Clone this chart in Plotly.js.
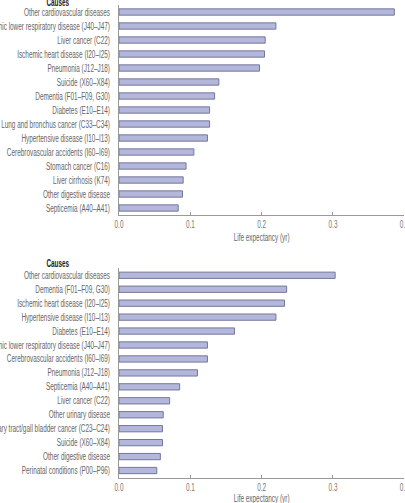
<!DOCTYPE html>
<html><head><meta charset="utf-8">
<script src="https://cdn.plot.ly/plotly-3.0.1.min.js"></script>
<style>html,body{margin:0;padding:0;background:#fff;}#chart{width:405px;height:503px;}</style>
</head><body><div id="chart"></div>
<script>
const topCauses = ["Other cardiovascular diseases","Chronic lower respiratory disease (J40–J47)","Liver cancer (C22)","Ischemic heart disease (I20–I25)","Pneumonia (J12–J18)","Suicide (X60–X84)","Dementia (F01–F09, G30)","Diabetes (E10–E14)","Lung and bronchus cancer (C33–C34)","Hypertensive disease (I10–I13)","Cerebrovascular accidents (I60–I69)","Stomach cancer (C16)","Liver cirrhosis (K74)","Other digestive disease","Septicemia (A40–A41)"];
const topValues = [0.386,0.220,0.205,0.204,0.197,0.140,0.134,0.127,0.127,0.124,0.105,0.094,0.090,0.089,0.083];
const bottomCauses = ["Other cardiovascular diseases","Dementia (F01–F09, G30)","Ischemic heart disease (I20–I25)","Hypertensive disease (I10–I13)","Diabetes (E10–E14)","Chronic lower respiratory disease (J40–J47)","Cerebrovascular accidents (I60–I69)","Pneumonia (J12–J18)","Septicemia (A40–A41)","Liver cancer (C22)","Other urinary disease","Biliary tract/gall bladder cancer (C23–C24)","Suicide (X60–X84)","Other digestive disease","Perinatal conditions (P00–P96)"];
const bottomValues = [0.303,0.235,0.232,0.220,0.162,0.124,0.124,0.110,0.085,0.071,0.062,0.061,0.061,0.058,0.053];
const xTicks = [0,0.1,0.2,0.3,0.4];
const axisTitle = "Life expectancy (yr)";
const groupTitle = "Causes";

const FONT = "'Liberation Sans','Arial',sans-serif";
const CONDENSE = 0.64; // emulate a condensed typeface
const barStyle = {color:'#b4b7dc', line:{color:'#75779a', width:1}};
const traces = [
  {type:'bar', orientation:'h', x:topValues, y:topCauses, xaxis:'x', yaxis:'y', marker:barStyle, width:0.45, hoverinfo:'none'},
  {type:'bar', orientation:'h', x:bottomValues, y:bottomCauses, xaxis:'x2', yaxis:'y2', marker:barStyle, width:0.45, hoverinfo:'none'}
];
const xCommon = {range:[0,0.4], tickvals:xTicks, tickformat:'.1f', ticks:'inside', ticklen:3, tickcolor:'#999',
  ticklabeloverflow:'allow',
  showline:true, linecolor:'#999', linewidth:1, showgrid:false, zeroline:false, tickfont:{family:FONT,size:10,color:'#777'},
  domain:[119/405, 404.3/405], fixedrange:true};
const yCommon = {type:'category', autorange:'reversed', showline:true, linecolor:'#999', linewidth:1, showgrid:false,
  ticks:'', ticklabelstandoff:6, ticklabeloverflow:'allow', tickfont:{family:FONT,size:10,color:'#666'}, fixedrange:true};
const layout = {
  width:405, height:503, margin:{l:0,r:0,t:0,b:0}, paper_bgcolor:'#fff', plot_bgcolor:'#fff', showlegend:false,
  xaxis:Object.assign({}, xCommon, {anchor:'y'}),
  yaxis:Object.assign({}, yCommon, {anchor:'x', domain:[1-215/503, 1-5/503]}),
  xaxis2:Object.assign({}, xCommon, {anchor:'y2'}),
  yaxis2:Object.assign({}, yCommon, {anchor:'x2', domain:[1-477.5/503, 1-268.3/503]}),
  annotations:[
    {text:'<b>'+groupTitle+'</b>', xref:'paper', yref:'paper', x:58.5/405, y:1-2/503, xanchor:'center', yanchor:'middle', showarrow:false, font:{family:FONT,size:10,color:'#222'}},
    {text:'<b>'+groupTitle+'</b>', xref:'paper', yref:'paper', x:58.5/405, y:1-263/503, xanchor:'center', yanchor:'middle', showarrow:false, font:{family:FONT,size:10,color:'#222'}},
    {text:axisTitle, xref:'paper', yref:'paper', x:261.7/405, y:1-237/503, xanchor:'center', yanchor:'middle', showarrow:false, font:{family:FONT,size:10,color:'#666'}},
    {text:axisTitle, xref:'paper', yref:'paper', x:261.7/405, y:1-498/503, xanchor:'center', yanchor:'middle', showarrow:false, font:{family:FONT,size:10,color:'#666'}}
  ]
};
Plotly.newPlot('chart', traces, layout, {displayModeBar:false, staticPlot:true}).then(function(gd){
  gd.querySelectorAll('svg text').forEach(function(t){
    const w = t.getComputedTextLength();
    if (w > 0) {
      t.setAttribute('textLength', (w*CONDENSE).toFixed(2));
      t.setAttribute('lengthAdjust', 'spacingAndGlyphs');
    }
  });
});
</script></body></html>
